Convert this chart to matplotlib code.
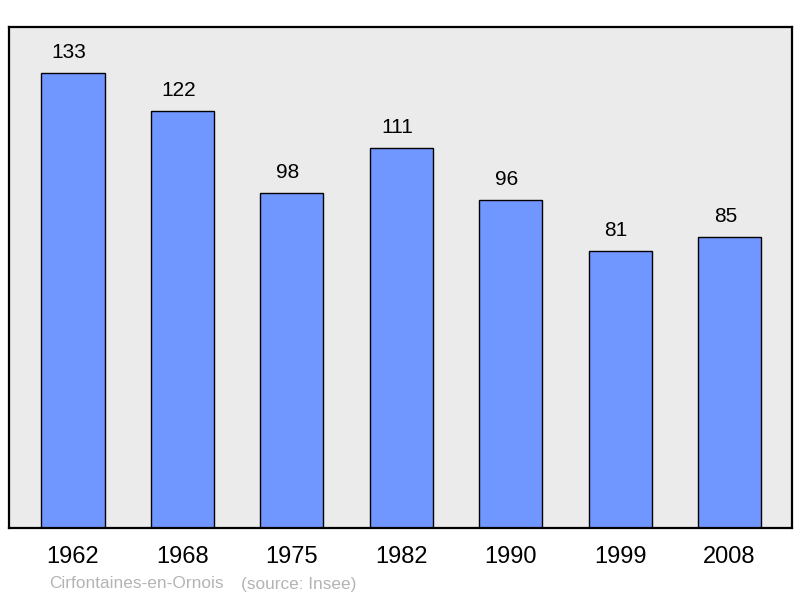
import matplotlib
matplotlib.use("Agg")
import matplotlib.pyplot as plt

years = ["1962", "1968", "1975", "1982", "1990", "1999", "2008"]
population = [133, 122, 98, 111, 96, 81, 85]
commune = "Cirfontaines-en-Ornois"
source = "(source: Insee)"

plt.rcParams['font.family'] = ['Liberation Sans', 'DejaVu Sans']

fig = plt.figure(figsize=(8, 5.98), dpi=100)
# axes box in pixel terms: x 9..792, y 27..528 (from top)
ax = fig.add_axes([9 / 800, 1 - 528 / 598, 783 / 800, 501 / 598])
ax.set_facecolor("#ebebeb")

pos = range(len(years))
bars = ax.bar(pos, population, width=0.577, color="#7096ff",
              edgecolor="black", linewidth=1.0, zorder=2)

# value labels above each bar
for x, v in zip(pos, population):
    ax.annotate(str(v), (x, v), xytext=(-3, 8), textcoords="offset points",
                ha="center", va="bottom", fontsize=15)

ax.set_xlim(-0.585, 6.571)
ax.set_ylim(0, 146.5)
ax.set_xticks(list(pos))
ax.set_xticklabels(years, fontsize=17)
ax.tick_params(axis="x", length=0, pad=13)
ax.set_yticks([])
for s in ax.spines.values():
    s.set_linewidth(1.6)

fig.text(49 / 800, 1 - 584 / 598, commune, color="#b4b4b4",
         fontsize=12.4, va="center", ha="left")
fig.text(241 / 800, 1 - 584 / 598, source, color="#b4b4b4",
         fontsize=12.4, va="center", ha="left")

fig.savefig("out.png", dpi=100)
